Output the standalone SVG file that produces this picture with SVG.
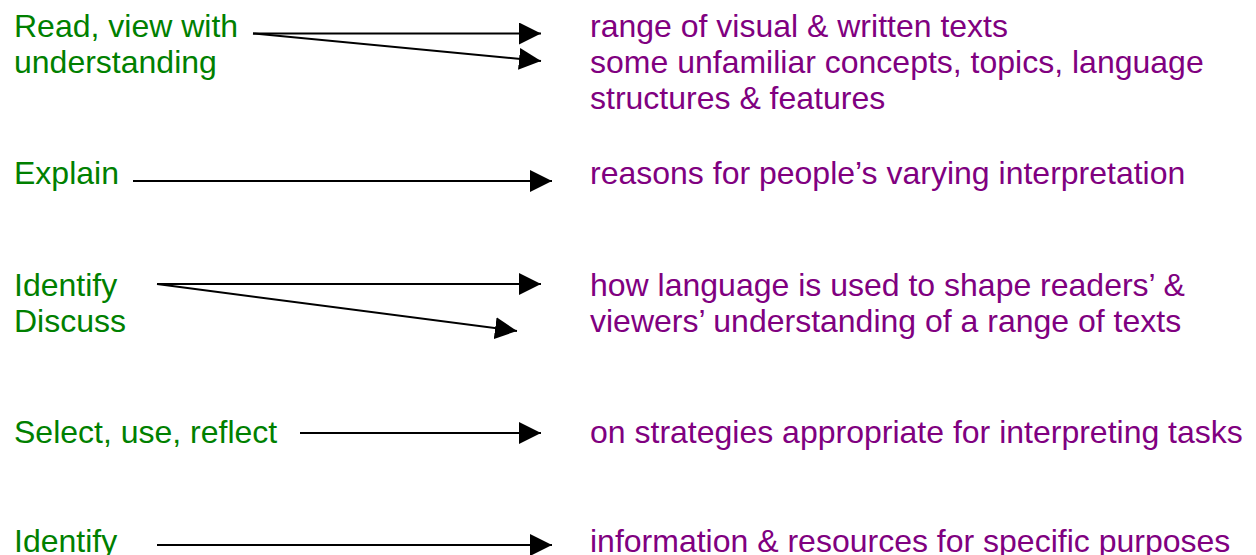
<svg xmlns="http://www.w3.org/2000/svg" width="1256" height="555" viewBox="0 0 1256 555">
  <style>
    text { font-family: "Liberation Sans", Arial, sans-serif; font-size: 32px; }
    .verb { fill: #008000; }
    .obj { fill: #800080; }
    .conn { stroke: #000; stroke-width: 2; fill: none; marker-end: url(#head); }
  </style>
  <defs>
    <marker id="head" markerUnits="userSpaceOnUse" markerWidth="22" markerHeight="22" viewBox="0 0 20 20" refX="20" refY="10" orient="auto">
      <path d="M0,0 L20,10 L0,20 Z" fill="#000"/>
    </marker>
  </defs>

  <rect width="1256" height="555" fill="#fff"/>

  <!-- left column: actions -->
  <g id="read-view">
    <text class="verb" x="14" y="37">Read, view with</text>
    <text class="verb" x="14" y="73">understanding</text>
  </g>
  <g id="explain">
    <text class="verb" x="14" y="184">Explain</text>
  </g>
  <g id="identify-discuss">
    <text class="verb" x="14" y="296">Identify</text>
    <text class="verb" x="14" y="332">Discuss</text>
  </g>
  <g id="select-use-reflect">
    <text class="verb" x="14" y="443">Select, use, reflect</text>
  </g>
  <g id="identify-info">
    <text class="verb" x="14" y="552">Identify</text>
  </g>

  <!-- right column: what each action applies to -->
  <g id="visual-texts">
    <text class="obj" x="590" y="37">range of visual &amp; written texts</text>
  </g>
  <g id="unfamiliar">
    <text class="obj" x="590" y="73">some unfamiliar concepts, topics, language</text>
    <text class="obj" x="590" y="109">structures &amp; features</text>
  </g>
  <g id="reasons">
    <text class="obj" x="590" y="184">reasons for people’s varying interpretation</text>
  </g>
  <g id="language-use">
    <text class="obj" x="590" y="296">how language is used to shape readers’ &amp;</text>
    <text class="obj" x="590" y="332">viewers’ understanding of a range of texts</text>
  </g>
  <g id="strategies">
    <text class="obj" x="590" y="443">on strategies appropriate for interpreting tasks</text>
  </g>
  <g id="information">
    <text class="obj" x="590" y="552">information &amp; resources for specific purposes</text>
  </g>

  <!-- connectors -->
  <g id="connectors">
    <line class="conn" x1="253" y1="33.5" x2="541" y2="33.5"/>
    <line class="conn" x1="253" y1="33.5" x2="541" y2="61"/>
    <line class="conn" x1="133" y1="181" x2="552" y2="181"/>
    <line class="conn" x1="157" y1="284" x2="541" y2="284"/>
    <line class="conn" x1="157" y1="284" x2="517" y2="331"/>
    <line class="conn" x1="300" y1="433" x2="541" y2="433"/>
    <line class="conn" x1="157" y1="545" x2="552" y2="545"/>
  </g>
</svg>
